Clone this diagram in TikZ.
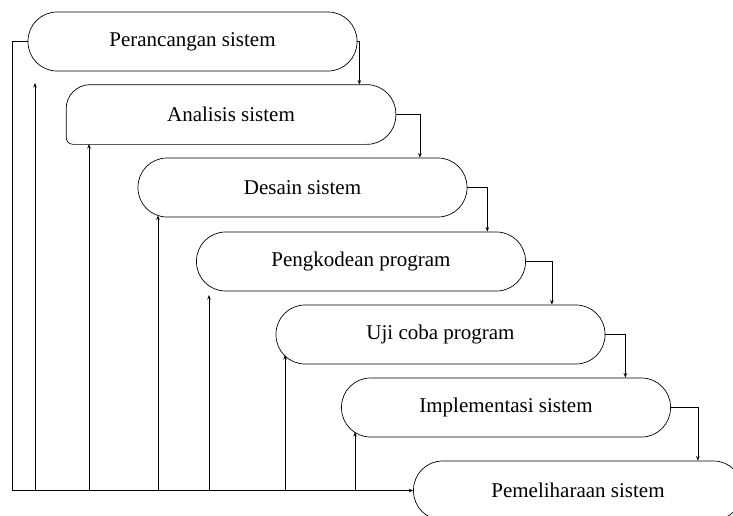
\documentclass[tikz,border=0pt]{standalone}
\usepackage{fontspec}
\setmainfont{Liberation Serif}
\usetikzlibrary{arrows.meta}
\tikzset{
  tahap/.style={draw, line width=0.7pt, rounded corners=29pt, minimum width=329pt,
    minimum height=59pt, inner sep=0pt, font=\fontsize{21}{25}\selectfont},
  alur/.style={line width=0.7pt, -{Stealth[length=4.5pt,width=3.5pt]}}
}
\begin{document}
\begin{tikzpicture}[x=1pt,y=-1pt]
% \clip to the frame of the page
\useasboundingbox (0,0) rectangle (733,515);
\clip (0,0) rectangle (733,515);

% Marking stage Perancangan
\node [tahap] (perancangan) at (192.5,41.5) {Perancangan sistem};

% Marking stage Analisis (outline drawn below, small lower left corner)
\node [tahap, draw=none] (analisis) at (231,114.5) {Analisis sistem};
\draw [line width=0.7pt] (analisis.north) [rounded corners=24pt] -- (analisis.north west)
  [rounded corners=7pt] -- (analisis.south west)
  [rounded corners=29pt] -- (analisis.south east) -- (analisis.north east) -- cycle;

% Marking stage Desain
\node [tahap] (desain) at (302.5,187.5) {Desain sistem};

% Marking stage Pengkodean
\node [tahap] (pengkodean) at (361,261.5) {Pengkodean program};

% Marking stage Uji coba
\node [tahap] (ujicoba) at (440.5,334.5) {Uji coba program};

% Marking stage Implementasi
\node [tahap] (implementasi) at (506,407.5) {Implementasi sistem};

% Marking stage Pemeliharaan
\node [tahap] (pemeliharaan) at (578,490.5) {Pemeliharaan sistem};

% Drawing steps down on the right
\draw [alur] (perancangan.east) -- ++(2,0) coordinate (j1) -- (j1 |- analisis.north);
\draw [alur] (analisis.east) -- ++(24,0) coordinate (j2) -- (j2 |- desain.north);
\draw [alur] (desain.east) -- ++(20,0) coordinate (j3) -- (j3 |- pengkodean.north);
\draw [alur] (pengkodean.east) -- ++(26,0) coordinate (j4) -- (j4 |- ujicoba.north);
\draw [alur] (ujicoba.east) -- ++(20,0) coordinate (j5) -- (j5 |- implementasi.north);
\draw [alur] (implementasi.east) -- ++(27,0) coordinate (j6) -- (j6 |- pemeliharaan.north);

% Drawing the loop back on the left
\draw [alur] (perancangan.west) -- ++(-15,0) |- (pemeliharaan.west);

% Marking the feet and tips of the back arrows
\coordinate (k1) at (35,490.5);   \coordinate (u1) at (35,83);
\coordinate (k2) at (89,490.5);   \coordinate (u2) at (89,144);
\coordinate (k3) at (158,490.5);  \coordinate (u3) at (158,215.5);
\coordinate (k4) at (209,490.5);  \coordinate (u4) at (209,295);
\coordinate (k5) at (285,490.5);  \coordinate (u5) at (285,355);
\coordinate (k6) at (355,490.5);  \coordinate (u6) at (355,432);

% Drawing back arrows
\foreach \i in {1,...,6}
  \draw [alur] (k\i) -- (u\i);
\end{tikzpicture}
\end{document}
